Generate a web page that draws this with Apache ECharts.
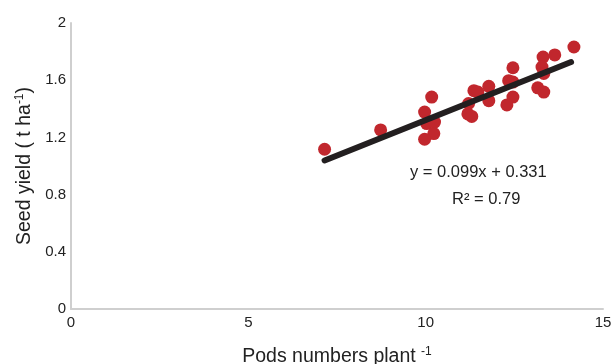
<!DOCTYPE html>
<html>
<head>
<meta charset="utf-8">
<script src="https://cdn.jsdelivr.net/npm/echarts@6/dist/echarts.min.js"></script>
<style>html,body{margin:0;padding:0;background:#fff}#c{width:613px;height:364px}</style>
</head>
<body>
<div id="c"></div>
<script>
var podsNumbers = [7.15, 8.73, 9.97, 10.17, 10.03, 10.25, 10.23, 9.97, 11.19, 11.30, 11.21, 11.36, 11.47, 11.78, 11.78, 12.46, 12.34, 12.46, 12.46, 12.29, 13.31, 13.64, 14.18, 13.28, 13.33, 13.16, 13.33];
var seedYield  = [1.117, 1.252, 1.377, 1.482, 1.297, 1.307, 1.227, 1.187, 1.364, 1.347, 1.437, 1.527, 1.517, 1.557, 1.457, 1.687, 1.597, 1.587, 1.482, 1.427, 1.762, 1.777, 1.832, 1.692, 1.647, 1.547, 1.517];
var trendSlope = 0.099;
var trendIntercept = 0.331;
var trendRange = [7.15, 14.1];
var equationText = 'y = 0.099x + 0.331';
var r2Text = 'R² = 0.79';

var points = podsNumbers.map(function (x, i) { return [x, seedYield[i]]; });
var trend = trendRange.map(function (x) { return [x, trendSlope * x + trendIntercept]; });

var chart = echarts.init(document.getElementById('c'), null, {renderer: 'canvas'});
var font = 'Liberation Sans, Arial, Helvetica, sans-serif';
var supStyle = {fontSize: 12, verticalAlign: 'top', padding: [0, 0, 9, 0], color: '#222', fontFamily: font};
chart.setOption({
  animation: false,
  grid: {left: 71, right: 10, top: 23, bottom: 55, containLabel: false, outerBoundsMode: 'none'},
  xAxis: {
    type: 'value', min: 0, max: 15, interval: 5,
    splitLine: {show: false},
    axisTick: {show: false},
    axisLine: {lineStyle: {color: '#cfcfcf', width: 2}},
    axisLabel: {color: '#222', fontSize: 15, fontFamily: font, margin: 6},
    name: 'Pods numbers plant {sup|-1}',
    nameLocation: 'middle', nameGap: 37,
    nameTextStyle: {color: '#222', fontSize: 19.5, fontFamily: font, rich: {sup: supStyle}}
  },
  yAxis: {
    type: 'value', min: 0, max: 2, interval: 0.4,
    splitLine: {show: false},
    axisTick: {show: false},
    axisLine: {show: true, lineStyle: {color: '#cfcfcf', width: 2}},
    axisLabel: {color: '#222', fontSize: 15, fontFamily: font, margin: 5,
      formatter: function (v) { return +v.toFixed(1) + ''; }},
    name: 'Seed yield ( t ha{sup|-1})',
    nameLocation: 'middle', nameGap: 36,
    nameTextStyle: {color: '#222', fontSize: 19.5, fontFamily: font, rich: {sup: supStyle}}
  },
  series: [
    {type: 'scatter', data: points, symbolSize: 13, itemStyle: {color: '#c1272d', opacity: 1}, z: 2},
    {type: 'line', data: trend, showSymbol: false, symbol: 'none',
      lineStyle: {color: '#231f20', width: 6, cap: 'round'}, z: 3}
  ],
  graphic: [
    {type: 'text', left: 410, top: 164, style: {text: equationText, fill: '#222', font: '16.5px ' + font}},
    {type: 'text', left: 452, top: 191, style: {text: r2Text, fill: '#222', font: '16.5px ' + font}}
  ]
});
</script>
</body>
</html>
